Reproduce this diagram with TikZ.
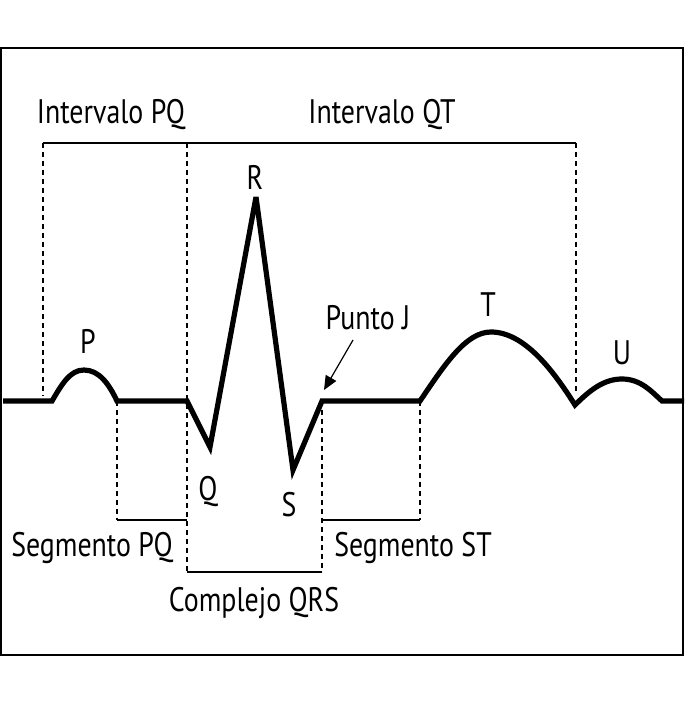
\documentclass[tikz,border=0pt]{standalone}
\usepackage{fontspec}
\setmainfont{PT Sans}[FakeStretch=0.82]
\usetikzlibrary{arrows.meta}

\begin{document}
\begin{tikzpicture}[x=0.5pt, y=-0.5pt,
  onda/.style={line width=2.6pt, line join=miter, miter limit=5},
  guida/.style={line width=0.6pt, dash pattern=on 2.5pt off 2pt},
  barra/.style={line width=1.3pt},
  etichetta/.style={font=\fontsize{17}{20}\selectfont, inner sep=0pt},
  freccia/.style={line width=0.6pt, -{Triangle[length=7pt, width=6pt]}}
    ]
    \useasboundingbox (0,0) rectangle (684,705);
    \draw[line width=0.8pt] (0.8,48) rectangle (683.2,655);

    % Punti dell'onda
    \coordinate (inizio) at (3,401);
    \coordinate (Pa) at (52,401);
    \coordinate (Pb) at (117,401);
    \coordinate (Qa) at (187,401);
    \coordinate (Q) at (210,447);
    \coordinate (R) at (256,197);
    \coordinate (S) at (293,470);
    \coordinate (J) at (322,401);
    \coordinate (Ta) at (420,401);
    \coordinate (Tb) at (575,405);
    \coordinate (Ub) at (662,401);
    \coordinate (fine) at (684,401);

    % Tracciato
    \draw[onda] (inizio) -- (Pa) .. controls (62,384) and (70,370) .. (84,370)
      .. controls (99,370) and (109,384) .. (Pb) -- (Qa) -- (Q) -- (R) -- (S) -- (J) -- (Ta)
      .. controls (445,364) and (466,332) .. (491,332)
      .. controls (524,332) and (553,370) .. (Tb)
      .. controls (590,390) and (604,379) .. (622,379)
      .. controls (641,379) and (652,392) .. (Ub) -- (fine);

    % Guide tratteggiate
    \coordinate (g1a) at (43,143);  \coordinate (g1b) at (43,396);
    \coordinate (g2a) at (187,143); \coordinate (g2b) at (187,572);
    \coordinate (g3a) at (576,143); \coordinate (g3b) at (576,394);
    \coordinate (g4a) at (117,401); \coordinate (g4b) at (117,520);
    \coordinate (g5a) at (322,401); \coordinate (g5b) at (322,572);
    \coordinate (g6a) at (420,401); \coordinate (g6b) at (420,520);
    \foreach \g in {1,...,6}
      \draw[guida] (g\g a) -- (g\g b);

    % Barre
    \draw[barra] (g1a) -- (g3a);
    \draw[barra] (g4b) -- (187,520);
    \draw[barra] (g5a |- g6b) -- (g6b);
    \draw[barra] (g2b) -- (g5b);

    % Etichette
    \node[etichetta] (intPQ) at (111,115) {Intervalo PQ};
    \node[etichetta] (intQT) at (382,115) {Intervalo QT};
    \node[etichetta] (letP) at (88,341) {P};
    \node[etichetta] (letR) at (255,177) {R};
    \node[etichetta] (letQ) at (208,492) {Q};
    \node[etichetta] (letS) at (289,505) {S};
    \node[etichetta] (letT) at (488,305) {T};
    \node[etichetta] (letU) at (622,353) {U};
    \node[etichetta] (puntoJ) at (368,318) {Punto J};
    \node[etichetta] (segPQ) at (92,548) {Segmento PQ};
    \node[etichetta] (segST) at (413,548) {Segmento ST};
    \node[etichetta] (qrs) at (254,603) {Complejo QRS};

    % Freccia
    \coordinate (jcoda) at (353,340);
    \coordinate (jpunta) at (324,390);
    \draw[freccia] (jcoda) -- (jpunta);
    \end{tikzpicture}
\end{document}
